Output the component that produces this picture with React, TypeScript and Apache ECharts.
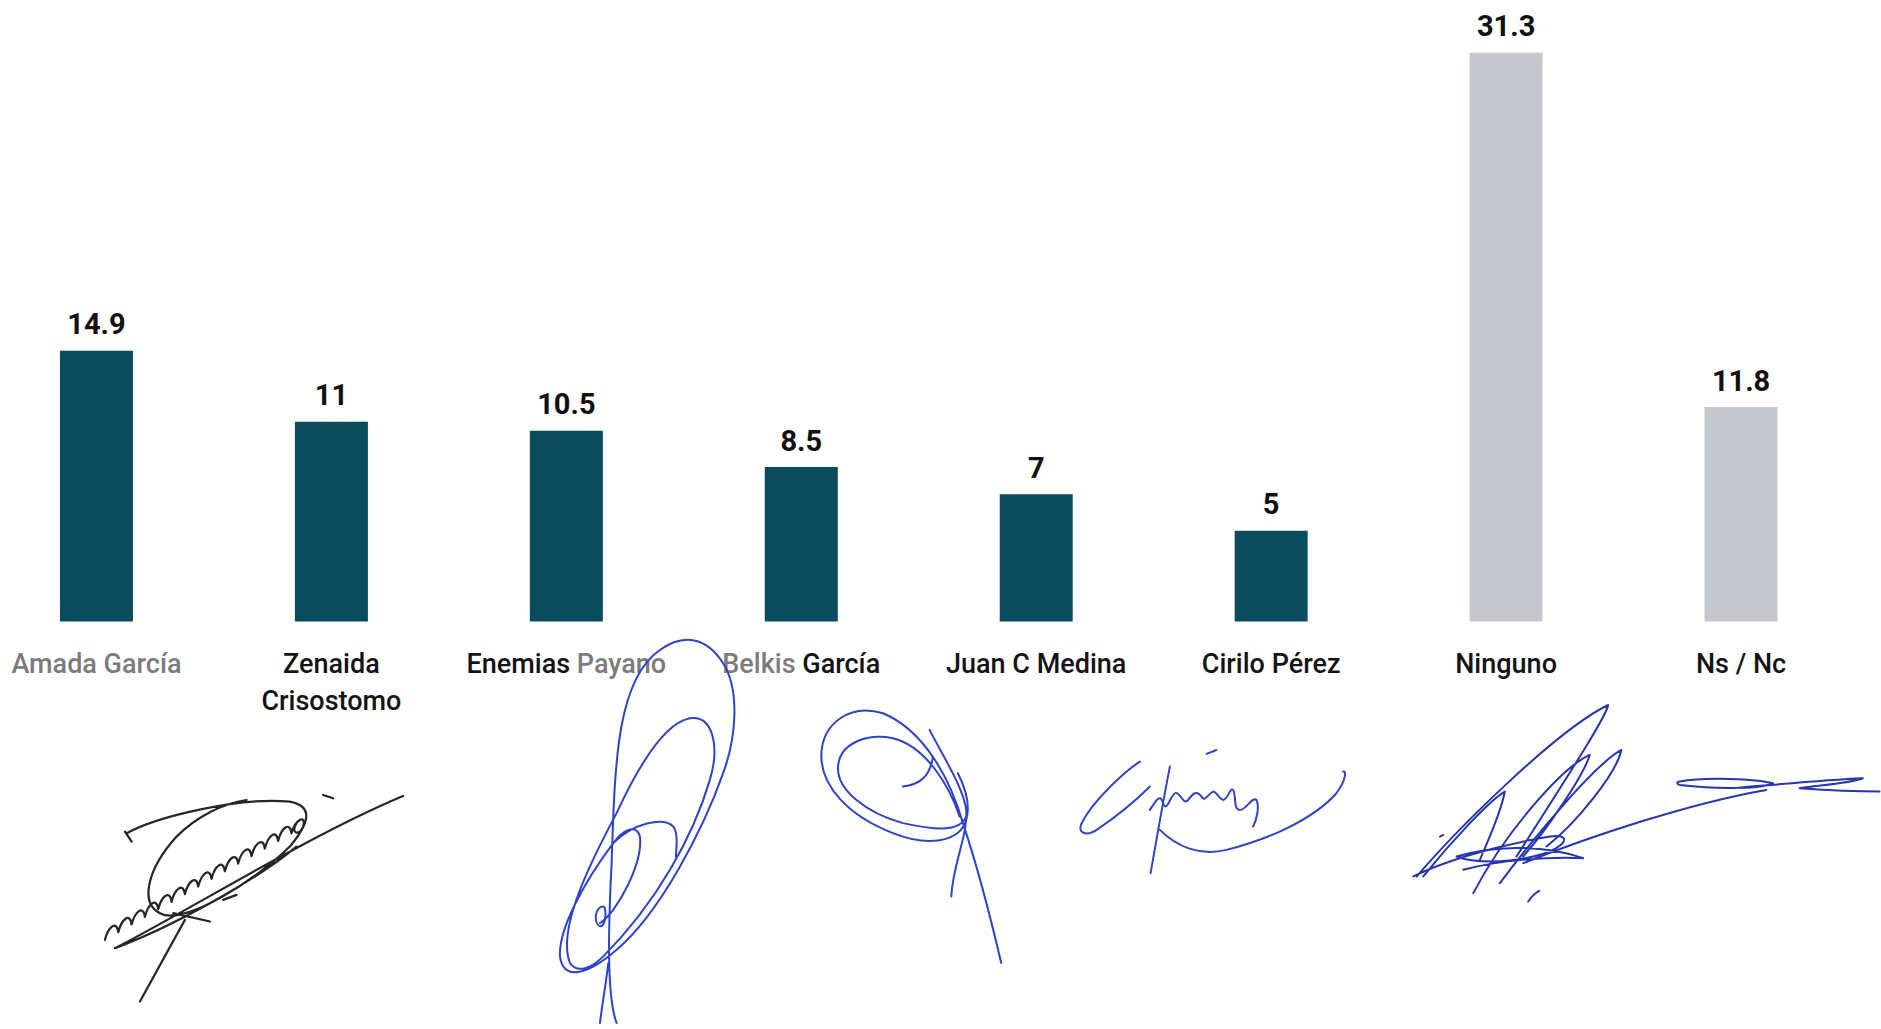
import React, { useEffect, useRef } from "react";
import * as echarts from "echarts";

const categories = [
  "Amada García",
  "Zenaida Crisostomo",
  "Enemias Payano",
  "Belkis García",
  "Juan C Medina",
  "Cirilo Pérez",
  "Ninguno",
  "Ns / Nc",
];
const values = [14.9, 11, 10.5, 8.5, 7, 5, 31.3, 11.8];
const candidateCount = 6;

const TEAL = "#0b4b5e";
const GREY_BAR = "#c5c7cc";
const FONT = "Roboto, 'Liberation Sans', sans-serif";
const SHIFT = 21; // chart container starts 21px left of the page edge

// Scanned signatures (decoration), each in a 3x local coordinate frame
const SIG1 =
  "M150 695 L285 450 M75 535 C250 470 500 330 620 230 M75 535 C300 420 650 200 940 78 " +
  "M110 190 C200 140 450 80 600 95 C680 110 650 170 600 230 C500 330 280 470 210 430 C150 400 170 300 260 200 C320 140 400 100 470 90 " +
  "M45 510 C55 470 80 450 85 487 C95 447 120 427 125 464 C135 424 160 404 165 441 C175 401 200 381 205 418 " +
  "C215 378 240 358 245 396 C255 356 280 336 285 373 C295 333 320 313 325 350 C335 310 360 290 365 327 " +
  "C375 287 400 267 405 304 C415 264 440 244 445 281 C455 241 480 221 485 259 C495 219 520 199 525 236 " +
  "C535 196 560 176 565 213 C575 173 600 153 605 190 C615 150 650 130 640 170 C630 200 600 190 620 160 " +
  "M105 185 L125 215 M700 75 L730 85 M400 390 L440 375 M250 430 L360 455";
const SIG2 =
  "M200 1180 C170 1100 175 900 185 700 C195 400 200 150 330 60 C400 10 470 20 520 100 C570 180 560 320 520 430 " +
  "C460 600 330 850 200 960 C120 1030 40 1060 30 980 C25 900 100 760 190 640 C220 600 260 580 270 620 C280 700 200 850 150 880 " +
  "M60 1000 C20 900 120 700 200 550 C260 420 340 280 420 265 C490 255 510 350 480 450 C430 620 320 820 160 980 C120 1020 80 1030 60 1000 " +
  "M160 830 C135 830 130 880 150 890 C170 890 170 830 160 830 " +
  "M190 640 C250 580 340 560 370 590 C385 610 380 650 378 680 M150 1180 C160 1100 170 1050 175 1000";
const SIG3 =
  "M1355 1000 C1320 850 1280 700 1240 580 C1200 440 1120 300 1000 250 C900 220 820 280 815 370 C810 470 900 560 1030 610 " +
  "C1130 650 1230 640 1250 570 C1265 520 1240 460 1225 430 " +
  "M1230 560 C1200 470 1130 350 1030 325 C950 310 870 340 865 410 C860 480 950 550 1060 580 C1150 600 1230 610 1250 560 " +
  "M1140 300 C1180 380 1240 470 1250 540 C1255 620 1210 700 1205 800 M1060 470 C1100 465 1140 450 1150 380";
const SIG4 =
  "M240 185 C200 210 100 300 65 370 C50 400 80 410 110 390 C170 350 230 300 270 260 " +
  "M330 200 C310 300 290 420 272 520 " +
  "M300 390 C350 440 420 470 500 450 C620 420 760 360 830 280 C860 240 860 210 850 215 " +
  "M270 330 C290 300 300 280 310 310 C320 340 330 290 345 280 C360 270 370 320 385 300 C400 280 410 270 425 290 " +
  "C435 310 445 280 460 275 C470 275 480 300 490 300 C505 300 510 260 520 270 C530 290 520 330 540 330 " +
  "C560 330 575 290 590 300 C600 320 590 360 580 380 M440 162 L470 150";
const SIG5 =
  "M80 560 C200 420 500 120 655 45 C650 80 520 280 380 500 " +
  "M250 610 C350 420 520 230 600 195 C580 260 470 420 400 500 " +
  "M330 580 C450 420 620 220 695 180 C680 250 560 400 470 470 " +
  "M100 560 C180 460 300 330 345 305 C330 380 290 460 270 510 " +
  "M70 560 C150 520 300 470 480 440 C560 430 520 480 430 500 C350 520 250 520 200 500 C300 470 450 460 580 505 C480 500 330 510 220 540 " +
  "M400 520 C600 440 900 340 1130 300 " +
  "M870 275 C950 260 1100 268 1150 280 C1120 295 1000 300 870 285 C860 282 860 276 870 275 " +
  "M1030 295 C1150 285 1300 270 1420 265 C1380 280 1300 285 1230 295 C1300 300 1400 305 1470 305 " +
  "M150 440 L160 435 M415 635 C425 620 435 610 448 603";

echarts.graphic.registerShape("sig1", echarts.graphic.extendPath(SIG1, {}));
echarts.graphic.registerShape("sig2", echarts.graphic.extendPath(SIG2, {}));
echarts.graphic.registerShape("sig3", echarts.graphic.extendPath(SIG3, {}));
echarts.graphic.registerShape("sig4", echarts.graphic.extendPath(SIG4, {}));
echarts.graphic.registerShape("sig5", echarts.graphic.extendPath(SIG5, {}));

const labelMarkup: Record<string, string> = {
  "Amada García": "{g|Amada García}",
  "Zenaida Crisostomo": "{b|Zenaida}\n{b|Crisostomo}",
  "Enemias Payano": "{b|Enemias }{g|Payano}",
  "Belkis García": "{g|Belkis }{b|García}",
};

export default function App() {
  const ref = useRef<HTMLDivElement>(null);
  useEffect(() => {
    if (!ref.current) return;
    const chart = echarts.init(ref.current, null, { renderer: "svg" });
    const sig = (type: string, ox: number, oy: number, color: string, w: number) => ({
      type,
      x: ox + SHIFT,
      y: oy,
      scaleX: 1 / 3,
      scaleY: 1 / 3,
      z: 10,
      style: { fill: null as any, stroke: color, lineWidth: w, strokeNoScale: true, lineCap: "round", lineJoin: "round" },
    });
    chart.setOption({
      animation: false,
      backgroundColor: "#ffffff",
      grid: { left: 0, right: 22.5, top: 3.6, height: 618, containLabel: false },
      xAxis: {
        type: "category",
        data: categories,
        axisLine: { show: false },
        axisTick: { show: false },
        axisLabel: {
          interval: 0,
          margin: 24,
          formatter: (v: string) => labelMarkup[v] ?? `{b|${v}}`,
          rich: {
            b: { color: "#141414", fontSize: 27, fontWeight: 500, fontFamily: FONT, lineHeight: 37 },
            g: { color: "#7c7c7c", fontSize: 27, fontWeight: 500, fontFamily: FONT, lineHeight: 37 },
          },
        },
      },
      yAxis: {
        type: "value",
        min: 0,
        max: 34,
        show: false,
        splitLine: { show: false },
      },
      series: [
        {
          type: "bar",
          data: values,
          barWidth: 73,
          itemStyle: {
            color: (p: any) => (p.dataIndex < candidateCount ? TEAL : GREY_BAR),
          },
          label: {
            show: true,
            position: "top",
            distance: 12,
            fontSize: 29,
            fontWeight: "bold",
            color: "#111111",
            fontFamily: FONT,
          },
        },
      ],
      graphic: [
        sig("sig1", 90, 770, "#262626", 2.2),
        sig("sig2", 550, 630, "#2f43c8", 2),
        sig("sig3", 550, 630, "#2f43c8", 2),
        sig("sig4", 1060, 700, "#3145c4", 2),
        sig("sig5", 1390, 690, "#2536ae", 2),
      ],
    });
    return () => chart.dispose();
  }, []);
  return (
    <div
      ref={ref}
      style={{ position: "absolute", left: -SHIFT, top: 0, width: 1881 + SHIFT, height: 1029, background: "#fff" }}
    />
  );
}
